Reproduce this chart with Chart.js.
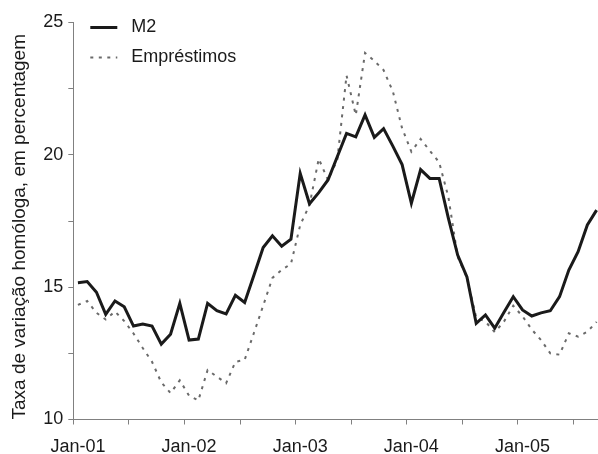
<!DOCTYPE html>
<html>
<head>
<meta charset="utf-8">
<script src="https://cdn.jsdelivr.net/npm/chart.js@4/dist/chart.umd.min.js"></script>
<style>
  html, body { margin: 0; padding: 0; background: #fff; }
</style>
</head>
<body>
<canvas id="chart" width="598" height="454"></canvas>
<script>
const months = [
  "Jan-01", "Feb-01", "Mar-01", "Apr-01", "May-01", "Jun-01", "Jul-01", "Aug-01", "Sep-01", "Oct-01", "Nov-01", "Dec-01",
  "Jan-02", "Feb-02", "Mar-02", "Apr-02", "May-02", "Jun-02", "Jul-02", "Aug-02", "Sep-02", "Oct-02", "Nov-02", "Dec-02",
  "Jan-03", "Feb-03", "Mar-03", "Apr-03", "May-03", "Jun-03", "Jul-03", "Aug-03", "Sep-03", "Oct-03", "Nov-03", "Dec-03",
  "Jan-04", "Feb-04", "Mar-04", "Apr-04", "May-04", "Jun-04", "Jul-04", "Aug-04", "Sep-04", "Oct-04", "Nov-04", "Dec-04",
  "Jan-05", "Feb-05", "Mar-05", "Apr-05", "May-05", "Jun-05", "Jul-05", "Aug-05", "Sep-05"
];

const m2 = [
  15.17, 15.21, 14.81, 13.97, 14.48, 14.26, 13.53, 13.61, 13.53, 12.85, 13.22, 14.39,
  13.00, 13.04, 14.39, 14.11, 13.99, 14.69, 14.42, 15.45, 16.50, 16.94, 16.55, 16.81,
  19.30, 18.15, 18.57, 19.05, 19.93, 20.81, 20.68, 21.51, 20.66, 20.99, 20.33, 19.63,
  18.17, 19.44, 19.11, 19.11, 17.60, 16.21, 15.39, 13.63, 13.95, 13.45, 14.05, 14.64,
  14.14, 13.91, 14.03, 14.11, 14.64, 15.65, 16.34, 17.35, 17.91
];

const emprestimos = [
  14.33, 14.48, 14.03, 13.78, 14.08, 13.72, 13.25, 12.70, 12.18, 11.40, 11.00, 11.48,
  10.90, 10.72, 11.87, 11.62, 11.37, 12.18, 12.25, 13.27, 14.30, 15.35, 15.65, 15.88,
  17.35, 18.10, 19.85, 19.05, 19.80, 23.00, 21.50, 23.85, 23.55, 23.20, 22.40, 21.00,
  20.12, 20.60, 20.15, 19.72, 18.40, 16.15, 15.36, 13.85, 13.70, 13.30, 13.70, 14.30,
  13.90, 13.40, 13.00, 12.50, 12.45, 13.26, 13.13, 13.32, 13.69
];

const xTickLabels = ["Jan-01", "Jan-02", "Jan-03", "Jan-04", "Jan-05"];
const yTickLabels = [10, 15, 20, 25];

// tick marks sit between months, every six months
const xMarks = [];
for (let i = 0; i < months.length; i += 6) xMarks.push(i - 0.5);

const axisGrey = "#808080";
const textCol = "#1a1a1a";

Chart.defaults.font.family = '"Liberation Sans", Arial, sans-serif';
Chart.defaults.font.size = 18;
Chart.defaults.color = textCol;

// legend sits inside the plot, top left
const legendInPlot = {
  id: "legendInPlot",
  afterLayout(chart) {
    const lg = chart.legend;
    lg.left += 5;
    lg.right += 5;
    lg.top += 6.5;
    lg.bottom += 6.5;
  }
};

const ctx = document.getElementById("chart");
new Chart(ctx, {
  type: "line",
  data: {
    datasets: [
      {
        label: "M2",
        data: m2.map((v, i) => ({ x: i, y: v })),
        borderColor: "#1a1a1a",
        borderWidth: 3,
        pointRadius: 0,
        tension: 0
      },
      {
        label: "Empréstimos",
        data: emprestimos.map((v, i) => ({ x: i, y: v })),
        borderColor: "#6a6a6a",
        borderWidth: 2,
        borderDash: [3, 5.5],
        pointRadius: 0,
        tension: 0
      }
    ]
  },
  options: {
    responsive: false,
    animation: false,
    devicePixelRatio: 1,
    layout: { padding: { top: 22.5, right: 0, bottom: 0, left: 0 } },
    plugins: {
      tooltip: { enabled: false },
      legend: {
        position: "chartArea",
        align: "start",
        labels: {
          usePointStyle: true,
          pointStyle: "line",
          pointStyleWidth: 27,
          padding: 12,
          color: textCol,
          font: { size: 18 },
          generateLabels(chart) {
            const items = Chart.defaults.plugins.legend.labels.generateLabels(chart);
            return items.map((it) => {
              const ds = chart.data.datasets[it.datasetIndex];
              return {
                ...it,
                text: " " + it.text,
                strokeStyle: ds.borderColor,
                lineWidth: ds.borderWidth,
                lineDash: ds.borderDash || []
              };
            });
          }
        }
      }
    },
    scales: {
      x: {
        type: "linear",
        min: -0.5,
        max: 56.15,
        bounds: "data",
        afterBuildTicks(scale) {
          scale.ticks = xMarks.map((v) => ({ value: v }));
        },
        afterFit(scale) {
          scale.height = 34.5;
        },
        grid: {
          drawOnChartArea: false,
          drawTicks: true,
          tickLength: 5,
          color: axisGrey
        },
        border: { color: axisGrey, width: 1 },
        ticks: {
          autoSkip: false,
          maxRotation: 0,
          padding: 12,
          labelOffset: 4.6,
          color: textCol,
          callback(value) {
            const lab = xTickLabels.find((l) => months.indexOf(l) - 0.5 === value);
            return lab || "";
          }
        }
      },
      y: {
        min: 10,
        max: 25,
        afterFit(scale) {
          scale.width = 73.3;
        },
        grid: {
          drawOnChartArea: false,
          drawTicks: true,
          tickLength: 5,
          color: axisGrey
        },
        border: { color: axisGrey, width: 1 },
        ticks: {
          stepSize: 2.5,
          padding: 5,
          color: textCol,
          callback(value) {
            return yTickLabels.includes(value) ? String(value) : "";
          }
        },
        title: {
          display: true,
          align: "start",
          text: "Taxa de variação homóloga, em percentagem",
          color: textCol,
          font: { size: 19 },
          padding: { top: 8, bottom: 0 }
        }
      }
    }
  },
  plugins: [legendInPlot]
});
</script>
</body>
</html>
